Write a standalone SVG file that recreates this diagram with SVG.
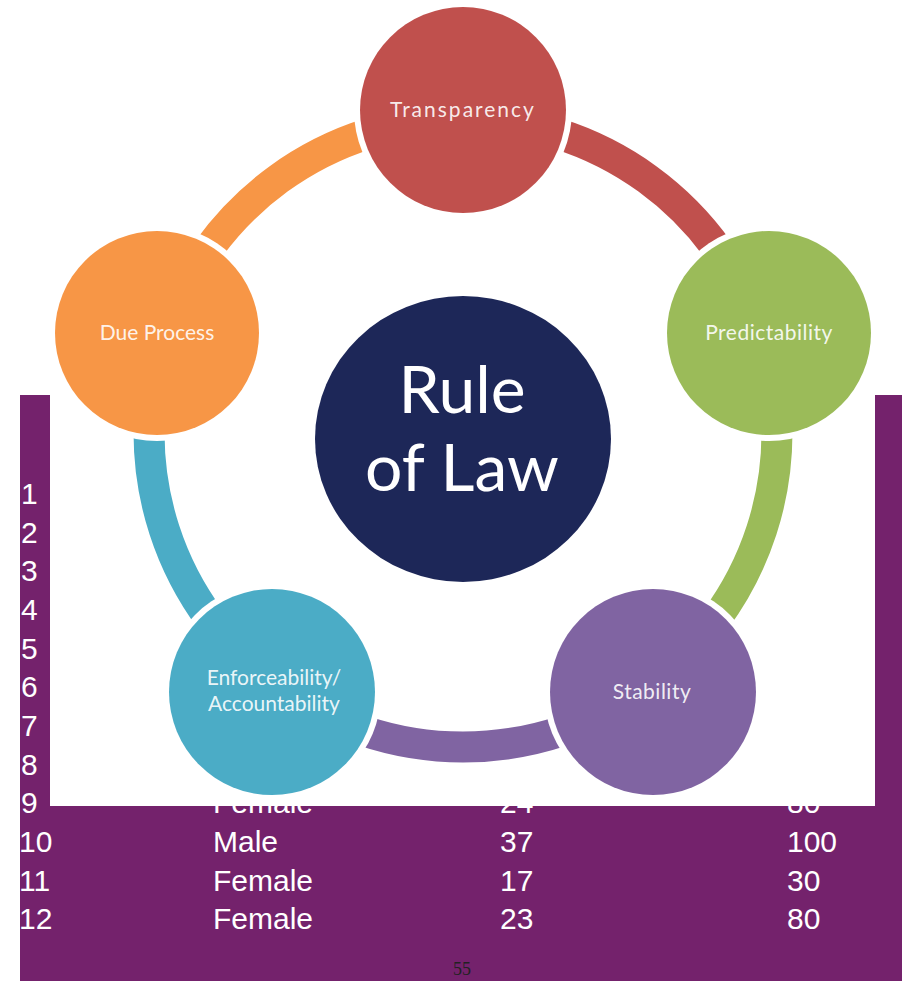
<svg xmlns="http://www.w3.org/2000/svg" width="902" height="981" viewBox="0 0 902 981">
<style>
.tbl{font-family:"Liberation Sans",Arial,sans-serif;font-size:30px;fill:#ffffff}
.lbl{font-family:Lato,"Open Sans",sans-serif;font-size:21px;fill:#ffffff;fill-opacity:0.9;text-anchor:middle}
.arc{fill:none;stroke-width:31}
.halo{fill:#ffffff}
.big{font-family:Lato,"Open Sans",sans-serif;font-size:66px;fill:#ffffff;text-anchor:middle}
</style>
<rect x="0" y="0" width="902" height="981" fill="#ffffff"/>
<g id="table">
<rect x="20" y="395" width="882" height="586" fill="#74226c"/>
<text class="tbl" x="21" y="504">1</text>
<text class="tbl" x="21" y="543">2</text>
<text class="tbl" x="21" y="581">3</text>
<text class="tbl" x="21" y="620">4</text>
<text class="tbl" x="21" y="659">5</text>
<text class="tbl" x="21" y="697">6</text>
<text class="tbl" x="21" y="736">7</text>
<text class="tbl" x="21" y="775">8</text>
<text class="tbl" x="21" y="813">9</text>
<text class="tbl" x="213" y="813">Female</text>
<text class="tbl" x="500" y="813">24</text>
<text class="tbl" x="787" y="813">80</text>
<text class="tbl" x="19" y="852">10</text>
<text class="tbl" x="213" y="852">Male</text>
<text class="tbl" x="500" y="852">37</text>
<text class="tbl" x="787" y="852">100</text>
<text class="tbl" x="19" y="891">11</text>
<text class="tbl" x="213" y="891">Female</text>
<text class="tbl" x="500" y="891">17</text>
<text class="tbl" x="787" y="891">30</text>
<text class="tbl" x="19" y="929">12</text>
<text class="tbl" x="213" y="929">Female</text>
<text class="tbl" x="500" y="929">23</text>
<text class="tbl" x="787" y="929">80</text>
<text x="462" y="975" font-family="'Liberation Serif',serif" font-size="18" fill="#222222" text-anchor="middle">55</text>
</g>
<rect x="50" y="0" width="825" height="806" fill="#ffffff"/>
<g id="connectors">
<path class="arc" stroke="#c0504d" d="M463,119 A314,314 0 0 1 761.6,336"/>
<path class="arc" stroke="#9bbb59" d="M761.6,336 A314,314 0 0 1 647.6,687"/>
<path class="arc" stroke="#8064a2" d="M647.6,687 A314,314 0 0 1 278.4,687"/>
<path class="arc" stroke="#4bacc6" d="M278.4,687 A314,314 0 0 1 164.4,336"/>
<path class="arc" stroke="#f79646" d="M164.4,336 A314,314 0 0 1 463,119"/>
</g>
<g id="transparency">
<circle class="halo" cx="463" cy="110" r="109"/>
<circle cx="463" cy="110" r="103" fill="#c0504d"/>
<text class="lbl" x="463" y="117" letter-spacing="2">Transparency</text>
</g>
<g id="predictability">
<circle class="halo" cx="769" cy="333" r="108"/>
<circle cx="769" cy="333" r="102" fill="#9bbb59"/>
<text class="lbl" x="769" y="340" letter-spacing="0.5">Predictability</text>
</g>
<g id="stability">
<circle class="halo" cx="653" cy="692" r="109"/>
<circle cx="653" cy="692" r="103" fill="#8064a2"/>
<text class="lbl" x="652" y="699" letter-spacing="0.5">Stability</text>
</g>
<g id="enforceability">
<circle class="halo" cx="272" cy="692" r="109"/>
<circle cx="272" cy="692" r="103" fill="#4bacc6"/>
<text class="lbl" x="274" y="685">Enforceability/</text>
<text class="lbl" x="274" y="711">Accountability</text>
</g>
<g id="due-process">
<circle class="halo" cx="157" cy="333" r="108"/>
<circle cx="157" cy="333" r="102" fill="#f79646"/>
<text class="lbl" x="157" y="340">Due Process</text>
</g>
<g id="rule-of-law">
<ellipse cx="463" cy="439" rx="148" ry="143" fill="#1d2758"/>
<text class="big" x="462" y="413">Rule</text>
<text class="big" x="462" y="491">of Law</text>
</g>
</svg>
